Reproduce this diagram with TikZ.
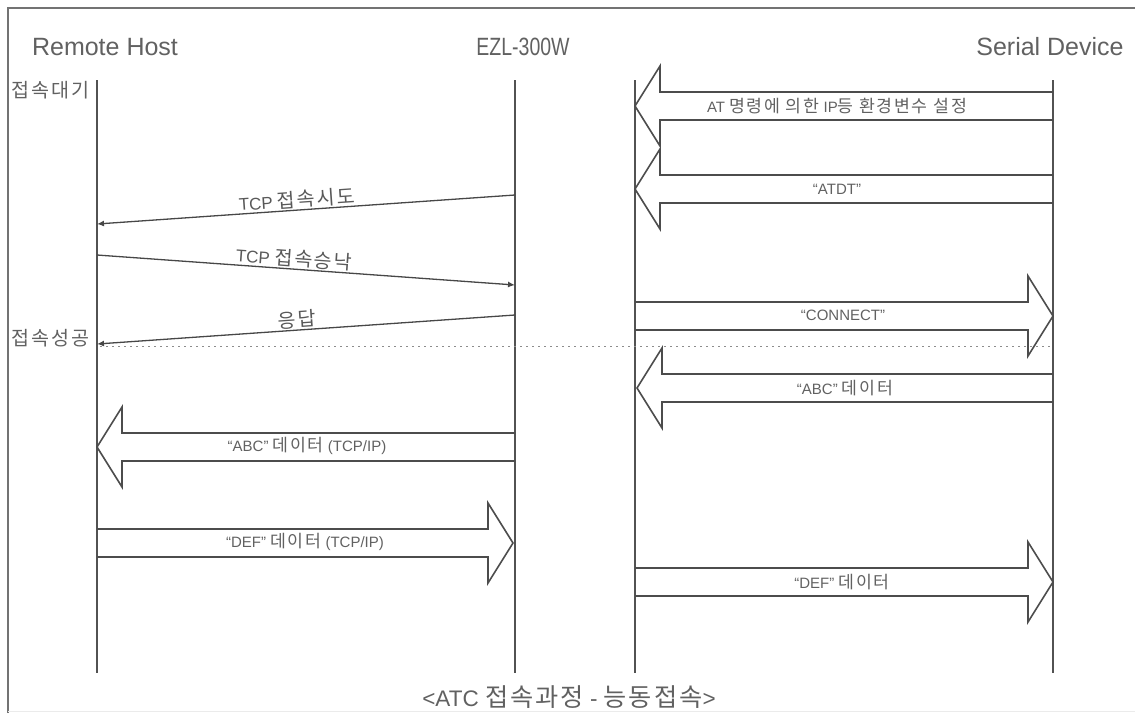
\documentclass[tikz,border=0pt]{standalone}
\usepackage{fontspec}
\setmainfont{Liberation Sans}
\newfontfamily\kr[Scale=1.15,LetterSpace=10]{Noto Sans CJK KR}
\newfontfamily\krc[Scale=1.12,LetterSpace=8]{Noto Sans CJK KR}
\usetikzlibrary{calc,arrows.meta}
\begin{document}
\begin{tikzpicture}[x=1pt,y=-1pt,line join=miter,
  lifeline/.style={draw=black!68,line width=2.2pt},
  msg/.style={draw=black!72,line width=1.3pt,-{Latex[length=7pt,width=6pt]}},
  blockarrow/.style={draw=black!70,line width=1.6pt,
    to path={let \p1=(\tikztostart),\p2=(\tikztotarget),
      \n1={ifthenelse(\x2>\x1,1,-1)} in
      (\x1,{\y1+14pt}) -- ({\x2-\n1*25pt},{\y1+14pt}) -- ({\x2-\n1*25pt},{\y1+40pt})
      -- (\x2,\y1) -- ({\x2-\n1*25pt},{\y1-40pt}) -- ({\x2-\n1*25pt},{\y1-14pt})
      -- (\x1,{\y1-14pt}) \tikztonodes}},
  hdr/.style={font=\fontsize{25}{25}\selectfont,text=black!62,inner sep=0pt},
  side/.style={font=\kr\fontsize{17}{17}\selectfont,text=black!62,inner sep=0pt},
  lbl/.style={font=\fontsize{15}{15}\selectfont,text=black!62,inner sep=0pt},
  mlbl/.style={font=\fontsize{17}{17}\selectfont,text=black!65,inner sep=1pt,sloped,above},
  captext/.style={font=\fontsize{22.5}{22.5}\selectfont,text=black!62,inner sep=0pt}]
\useasboundingbox (0,0) rectangle (1135,713);
% frame
\draw[black!55,line width=2.5pt] (8,713) -- (8,8) -- (1135,8);
\draw[black!8,line width=1pt] (8,711) -- (1135,711);
% headers
\node[hdr] (rh) at (105,47) {Remote Host};
\node[hdr] (ezl) at (523,47) {\scalebox{0.78}[1]{EZL-300W}};
\node[hdr] (sd) at (1050,47) {Serial Device};
% lifelines
\coordinate (rht) at (97,80);  \coordinate (rhb) at (97,673);
\coordinate (e1t) at (515,80); \coordinate (e1b) at (515,673);
\coordinate (e2t) at (635,80); \coordinate (e2b) at (635,673);
\coordinate (sdt) at (1053,80);\coordinate (sdb) at (1053,673);
\draw[lifeline] (rht) -- (rhb);
\draw[lifeline] (e1t) -- (e1b);
\draw[lifeline] (e2t) -- (e2b);
\draw[lifeline] (sdt) -- (sdb);
% side labels
\node[side,anchor=west] (wait) at (11,90) {접속대기};
\node[side,anchor=west] (ok) at (11,338) {접속성공};
% dotted line
\coordinate (d1) at (100,346); \coordinate (d2) at (1053,346);
\draw[black!45,line width=0.9pt,dash pattern=on 1.5pt off 4.5pt] (d1) -- (d2);
% thin messages
\coordinate (m1s) at (515,195); \coordinate (m1e) at (97,224);
\coordinate (m2s) at (97,255);  \coordinate (m2e) at (515,285);
\coordinate (m3s) at (515,315); \coordinate (m3e) at (97,344);
\draw[msg] (m1s) -- node[mlbl,pos=0.52]{TCP {\kr 접속시도}} (m1e);
\draw[msg] (m2s) -- node[mlbl,pos=0.47]{TCP {\kr 접속승낙}} (m2e);
\draw[msg] (m3s) -- node[mlbl,pos=0.52]{\kr 응답} (m3e);
% block arrows
\coordinate (b1s) at (1053,106); \coordinate (b1e) at (635,106);
\coordinate (b2s) at (1053,189); \coordinate (b2e) at (635,189);
\coordinate (b3s) at (635,316);  \coordinate (b3e) at (1053,316);
\coordinate (b4s) at (1053,388); \coordinate (b4e) at (637,388);
\coordinate (b5s) at (515,447);  \coordinate (b5e) at (97,447);
\coordinate (b6s) at (97,543);   \coordinate (b6e) at (513,543);
\coordinate (b7s) at (635,582);  \coordinate (b7e) at (1053,582);
\draw[blockarrow] (b1s) to (b1e);
\draw[blockarrow] (b2s) to (b2e);
\draw[blockarrow] (b3s) to (b3e);
\draw[blockarrow] (b4s) to (b4e);
\draw[blockarrow] (b5s) to (b5e);
\draw[blockarrow] (b6s) to (b6e);
\draw[blockarrow] (b7s) to (b7e);
\node[lbl] (l1) at (837,106) {AT {\kr 명령에 의한} IP{\kr 등 환경변수 설정}};
\node[lbl] (l2) at (837,189) {“ATDT”};
\node[lbl] (l3) at (843,315) {“CONNECT”};
\node[lbl] (l4) at (845,388) {“ABC” {\kr 데이터}};
\node[lbl] (l5) at (307,446) {“ABC” {\kr 데이터} (TCP/IP)};
\node[lbl] (l6) at (305,542) {“DEF” {\kr 데이터} (TCP/IP)};
\node[lbl] (l7) at (842,582) {“DEF” {\kr 데이터}};
% caption
\node[captext] (caption) at (569,697) {<ATC {\krc 접속과정} - {\krc 능동접속}>};
\end{tikzpicture}
\end{document}
